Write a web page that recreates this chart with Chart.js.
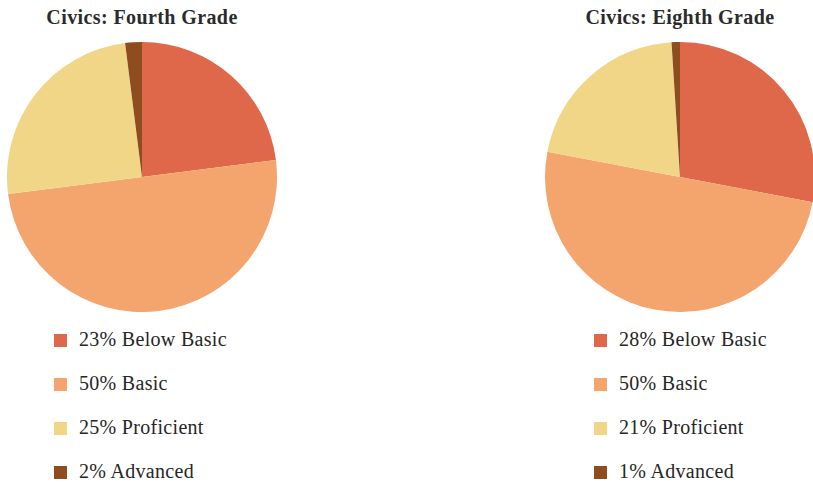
<!DOCTYPE html>
<html>
<head>
<meta charset="utf-8">
<script src="https://cdn.jsdelivr.net/npm/chart.js@4/dist/chart.umd.min.js"></script>
<style>
    html, body { margin: 0; padding: 0; background: #fff; overflow: hidden; }
    #wrap { position: relative; width: 813px; height: 486px; overflow: hidden; }
    .title { position: absolute; top: 6px; width: 300px; text-align: center; letter-spacing: 0.4px;
             font-family: "Liberation Serif", serif; font-weight: bold; font-size: 20px; color: #2b2b2b; }
    .pie { position: absolute; top: 42px; width: 270px; height: 270px; }
    .legend { position: absolute; top: 325px; font-family: "Liberation Serif", serif; font-size: 20px;
              letter-spacing: 0.3px; color: #262626; }
    .legend .row { height: 44px; line-height: 28px; white-space: nowrap; }
    .legend .box { display: inline-block; width: 13px; height: 13px; margin-right: 12px; vertical-align: -1px; }
</style>
</head>
<body>
<div id="wrap">
    <div class="title" style="left:-8px">Civics: Fourth Grade</div>
    <div class="title" style="left:530px">Civics: Eighth Grade</div>
    <div class="pie" style="left:7px"><canvas id="pie-fourth"></canvas></div>
    <div class="pie" style="left:545px"><canvas id="pie-eighth"></canvas></div>
    <div class="legend" id="legend-fourth" style="left:54px"></div>
    <div class="legend" id="legend-eighth" style="left:594px"></div>
</div>
<script>
var levels = ['Below Basic', 'Basic', 'Proficient', 'Advanced'];
var fourthGrade = [23, 50, 25, 2];
var eighthGrade = [28, 50, 21, 1];
var colors = ['#e0684a', '#f4a56e', '#f2d687', '#8e4d1f'];

function makePie(id, values) {
    var ctx = document.getElementById(id).getContext('2d');
    return new Chart(ctx, {
        type: 'pie',
        data: {
            labels: levels,
            datasets: [{ data: values, backgroundColor: colors, borderWidth: 0, hoverOffset: 0 }]
        },
        options: {
            responsive: true,
            maintainAspectRatio: false,
            animation: false,
            layout: { padding: 0 },
            plugins: { legend: { display: false }, tooltip: { enabled: false } }
        }
    });
}

function makeLegend(id, values) {
    var html = '';
    for (var i = 0; i < levels.length; i++) {
        html += '<div class="row"><span class="box" style="background:' + colors[i] + '"></span>' +
                values[i] + '% ' + levels[i] + '</div>';
    }
    document.getElementById(id).innerHTML = html;
}

makePie('pie-fourth', fourthGrade);
makePie('pie-eighth', eighthGrade);
makeLegend('legend-fourth', fourthGrade);
makeLegend('legend-eighth', eighthGrade);
</script>
</body>
</html>
